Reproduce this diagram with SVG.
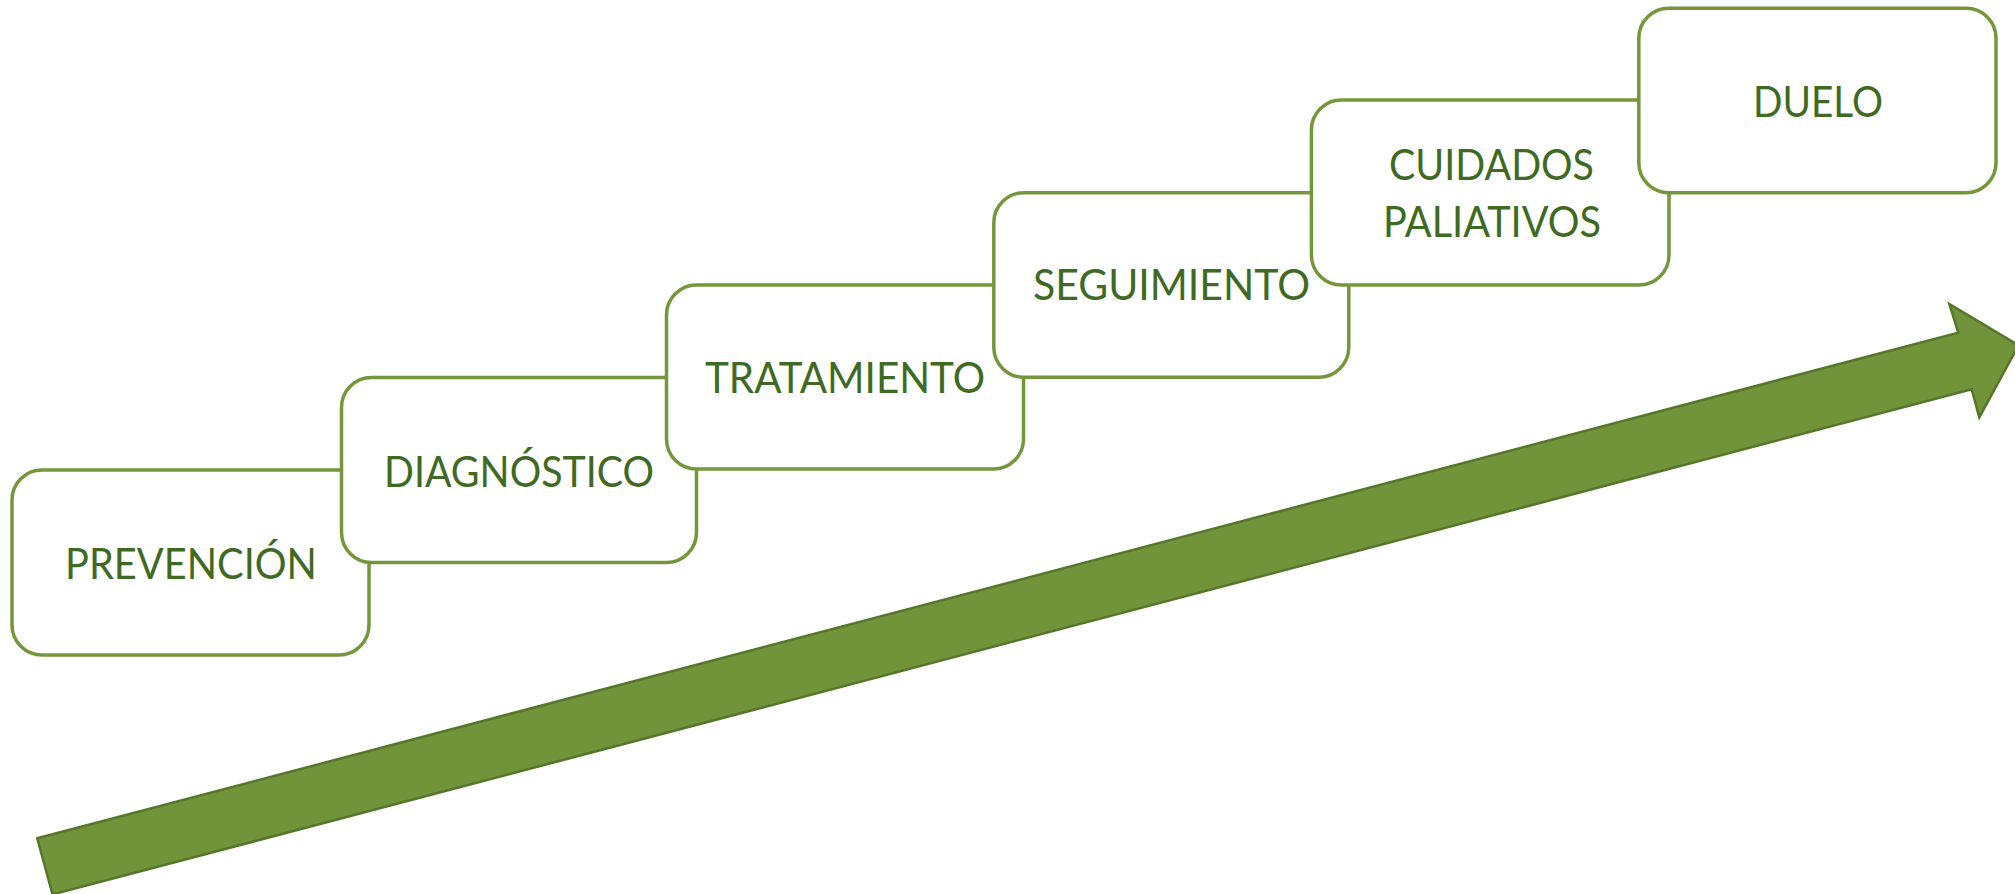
<svg xmlns="http://www.w3.org/2000/svg" width="2015" height="894" viewBox="0 0 2015 894">
  <style>
    .box { fill: #ffffff; stroke: #76963C; stroke-width: 3.5; }
    .lbl { font-family: Lato, "Open Sans", "Liberation Sans", sans-serif; font-size: 43px; fill: #3F6A23; text-anchor: middle; }
    .arrow { fill: #71933A; stroke: #56772A; stroke-width: 2.5; stroke-linejoin: miter; }
  </style>
  <rect width="2015" height="894" fill="#ffffff"/>
  <g id="connectors">
    <polygon class="arrow" points="37.3,838.3 1958.3,332.7 1949.3,304 2018.5,345.4 1979.3,417.3 1971.7,389.3 52.5,894.4"/>
  </g>
  <g id="node-prevencion">
    <rect class="box" x="12" y="470" width="357" height="185" rx="30" ry="30"/>
    <text class="lbl" x="191" y="579" textLength="252" lengthAdjust="spacingAndGlyphs">PREVENCIÓN</text>
  </g>
  <g id="node-diagnostico">
    <rect class="box" x="341.5" y="377.5" width="355" height="185" rx="30" ry="30"/>
    <text class="lbl" x="519" y="487" textLength="270" lengthAdjust="spacingAndGlyphs">DIAGNÓSTICO</text>
  </g>
  <g id="node-tratamiento">
    <rect class="box" x="666.5" y="285" width="357" height="184" rx="30" ry="30"/>
    <text class="lbl" x="845" y="393" textLength="280" lengthAdjust="spacingAndGlyphs">TRATAMIENTO</text>
  </g>
  <g id="node-seguimiento">
    <rect class="box" x="993.8" y="192.7" width="355" height="184.5" rx="30" ry="30"/>
    <text class="lbl" x="1171.5" y="300" textLength="277" lengthAdjust="spacingAndGlyphs">SEGUIMIENTO</text>
  </g>
  <g id="node-cuidados-paliativos">
    <rect class="box" x="1311.4" y="100" width="357.6" height="185" rx="30" ry="30"/>
    <text class="lbl" x="1491.5" y="180" textLength="205" lengthAdjust="spacingAndGlyphs">CUIDADOS</text>
    <text class="lbl" x="1492" y="237" textLength="218" lengthAdjust="spacingAndGlyphs">PALIATIVOS</text>
  </g>
  <g id="node-duelo">
    <rect class="box" x="1638.8" y="8.3" width="357.2" height="184.4" rx="30" ry="30"/>
    <text class="lbl" x="1818" y="117" textLength="130" lengthAdjust="spacingAndGlyphs">DUELO</text>
  </g>
</svg>
